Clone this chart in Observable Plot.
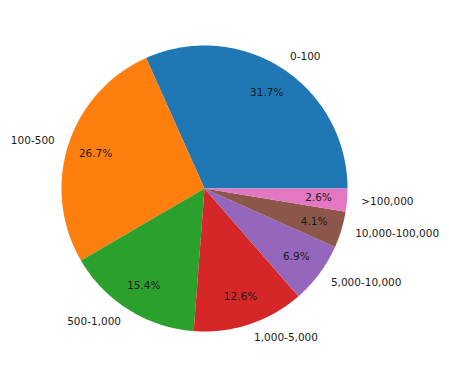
<!DOCTYPE html>
<html>
<head>
<meta charset="utf-8">
<script src="https://cdn.jsdelivr.net/npm/d3@7"></script>
<script src="https://cdn.jsdelivr.net/npm/@observablehq/plot@0.6"></script>
<style>
body { margin: 0; background: #fff; }
</style>
</head>
<body>
<div id="chart"></div>
<script>
const categories = ["0-100", "100-500", "500-1,000", "1,000-5,000", "5,000-10,000", "10,000-100,000", ">100,000"];
const values = [31.7, 26.7, 15.4, 12.6, 6.9, 4.1, 2.6];
const colors = ["#1f77b4", "#ff7f0e", "#2ca02c", "#d62728", "#9467bd", "#8c564b", "#e377c2"];

const total = d3.sum(values);
let cum = 0;
const slices = values.map((v, i) => {
  const a0 = cum / total * 2 * Math.PI;
  cum += v;
  const a1 = cum / total * 2 * Math.PI;
  return {cat: categories[i], value: v, a0, a1, mid: (a0 + a1) / 2};
});

const polys = [];
for (const s of slices) {
  polys.push({cat: s.cat, x: 0, y: 0});
  const n = Math.max(2, Math.ceil((s.a1 - s.a0) / 0.01));
  for (let k = 0; k <= n; k++) {
    const a = s.a0 + (s.a1 - s.a0) * k / n;
    polys.push({cat: s.cat, x: Math.cos(a), y: Math.sin(a)});
  }
}

const labels = slices.map(s => ({cat: s.cat, x: 1.1 * Math.cos(s.mid), y: 1.1 * Math.sin(s.mid)}));
const pcts = slices.map(s => ({t: s.value.toFixed(1) + "%", x: 0.8 * Math.cos(s.mid), y: 0.8 * Math.sin(s.mid)}));

const R = 143;
const font = "DejaVu Sans";
const fs = 10.5;
const chart = Plot.plot({
  width: 449,
  height: 378,
  margin: 0,
  style: {background: "#fff", fontFamily: font},
  x: {domain: [-204 / R, 245 / R], axis: null},
  y: {domain: [-190 / R, 188 / R], axis: null},
  color: {domain: categories, range: colors},
  marks: [
    Plot.line(polys, {x: "x", y: "y", z: "cat", fill: "cat", stroke: "none", curve: "linear-closed"}),
    Plot.text(labels.filter(d => d.x >= 0), {x: "x", y: "y", text: "cat", textAnchor: "start", fontSize: fs, fill: "#1a1a1a", fontFamily: font}),
    Plot.text(labels.filter(d => d.x < 0), {x: "x", y: "y", text: "cat", textAnchor: "end", fontSize: fs, fill: "#1a1a1a", fontFamily: font}),
    Plot.text(pcts, {x: "x", y: "y", text: "t", textAnchor: "middle", fontSize: fs, fill: "#1a1a1a", fontFamily: font})
  ]
});
document.getElementById("chart").appendChild(chart);
</script>
</body>
</html>
